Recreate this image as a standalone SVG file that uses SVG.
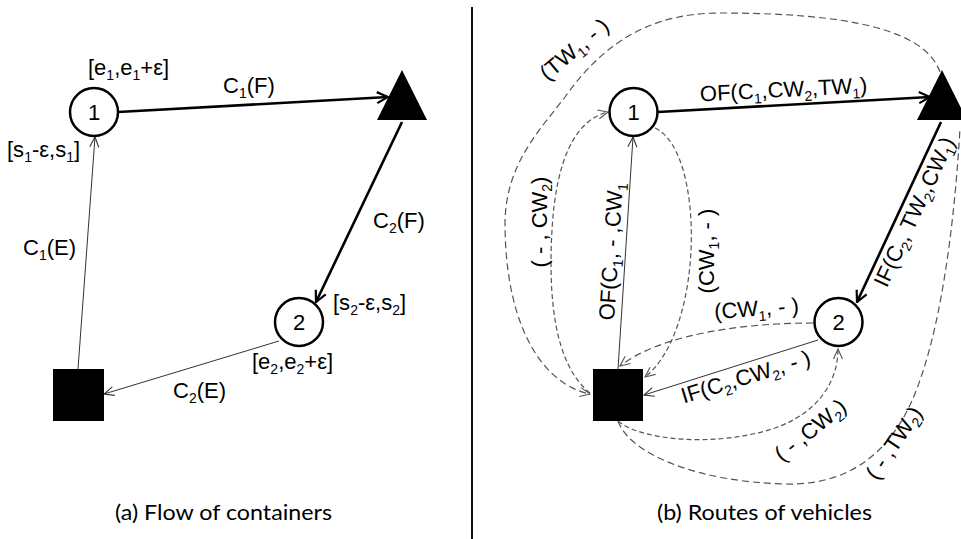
<svg xmlns="http://www.w3.org/2000/svg" width="961" height="539" viewBox="0 0 961 539">
  <style>
    .lbl { font-family: "Liberation Sans", Arial, sans-serif; font-size: 22px; fill: #000; }
    .sub { font-size: 14px; }
    .cap { font-family: Lato, "Liberation Sans", sans-serif; font-size: 22px; fill: #000; }
    .num { font-family: "Liberation Sans", Arial, sans-serif; font-size: 22px; text-anchor: middle; }
    .circ { fill: #fff; stroke: #000; stroke-width: 2.5; }
    .thick { fill: none; stroke: #000; stroke-width: 2.6; }
    .thin { fill: none; stroke: #333; stroke-width: 1; }
    .dash { fill: none; stroke: #555; stroke-width: 1.2; stroke-dasharray: 7 4; }
    .dash2 { fill: none; stroke: #555; stroke-width: 1.2; stroke-dasharray: 5 3; }
  </style>
  <defs>
    <marker id="ah-thick" viewBox="0 0 14 14" refX="12.5" refY="7" markerWidth="14" markerHeight="14" markerUnits="userSpaceOnUse" orient="auto">
      <path d="M1.5,1.5 L12.5,7 L1.5,12.5" fill="none" stroke="#000" stroke-width="2.2"/>
    </marker>
    <marker id="ah-thin" viewBox="0 0 12 12" refX="11" refY="6" markerWidth="12" markerHeight="12" markerUnits="userSpaceOnUse" orient="auto">
      <path d="M1,1.5 L11,6 L1,10.5" fill="none" stroke="#333" stroke-width="1.1"/>
    </marker>
    <marker id="ah-dash" viewBox="0 0 12 12" refX="11" refY="6" markerWidth="12" markerHeight="12" markerUnits="userSpaceOnUse" orient="auto">
      <path d="M1,1.5 L11,6 L1,10.5" fill="none" stroke="#555" stroke-width="1.1"/>
    </marker>
  </defs>

  <rect width="961" height="539" fill="#fff"/>

  <!-- panel divider -->
  <line x1="472" y1="7" x2="472" y2="539" stroke="#111" stroke-width="2"/>

  <!-- ===== (a) flow of containers ===== -->
  <g id="edges-a">
    <line class="thick" x1="118" y1="112" x2="388" y2="97" marker-end="url(#ah-thick)"/>
    <line class="thick" x1="402" y1="122" x2="316" y2="302" marker-end="url(#ah-thick)"/>
    <line class="thin" x1="78" y1="369" x2="95" y2="137" marker-end="url(#ah-thin)"/>
    <line class="thin" x1="279" y1="341" x2="104" y2="394" marker-end="url(#ah-thin)"/>
  </g>

  <g id="a-customer-1">
    <circle class="circ" cx="94" cy="112" r="24"/>
    <text class="num" x="94" y="120">1</text>
  </g>
  <g id="a-customer-2">
    <circle class="circ" cx="299" cy="322" r="24"/>
    <text class="num" x="299" y="330">2</text>
  </g>
  <g id="a-terminal">
    <polygon points="402,70 377,120 427,120" fill="#000"/>
  </g>
  <g id="a-depot">
    <rect x="53" y="369" width="51" height="52" fill="#000"/>
  </g>

  <g id="labels-a" class="lbl">
    <text x="88" y="75">[e<tspan class="sub" dy="5">1</tspan><tspan dy="-5">,e</tspan><tspan class="sub" dy="5">1</tspan><tspan dy="-5">+ε]</tspan></text>
    <text x="223" y="93">C<tspan class="sub" dy="5">1</tspan><tspan dy="-5">(F)</tspan></text>
    <text x="7" y="157">[s<tspan class="sub" dy="5">1</tspan><tspan dy="-5">-ε,s</tspan><tspan class="sub" dy="5">1</tspan><tspan dy="-5">]</tspan></text>
    <text x="23" y="255">C<tspan class="sub" dy="5">1</tspan><tspan dy="-5">(E)</tspan></text>
    <text x="373" y="228">C<tspan class="sub" dy="5">2</tspan><tspan dy="-5">(F)</tspan></text>
    <text x="333" y="310">[s<tspan class="sub" dy="5">2</tspan><tspan dy="-5">-ε,s</tspan><tspan class="sub" dy="5">2</tspan><tspan dy="-5">]</tspan></text>
    <text x="252" y="369">[e<tspan class="sub" dy="5">2</tspan><tspan dy="-5">,e</tspan><tspan class="sub" dy="5">2</tspan><tspan dy="-5">+ε]</tspan></text>
    <text x="173" y="398">C<tspan class="sub" dy="5">2</tspan><tspan dy="-5">(E)</tspan></text>
  </g>
  <text class="cap" x="115" y="520" textLength="217" lengthAdjust="spacingAndGlyphs">(a) Flow of containers</text>

  <!-- ===== (b) routes of vehicles ===== -->
  <g id="edges-b">
    <line class="thick" x1="658" y1="112" x2="930" y2="97" marker-end="url(#ah-thick)"/>
    <line class="thick" x1="941" y1="122" x2="857" y2="302" marker-end="url(#ah-thick)"/>
    <line class="thin" x1="618" y1="369" x2="633" y2="137" marker-end="url(#ah-thin)"/>
    <line class="thin" x1="818" y1="340" x2="644" y2="395" marker-end="url(#ah-thin)"/>
    <!-- (TW1, -) terminal back to depot, over the top -->
    <path class="dash" d="M940,72 C925,30 850,13 720,13 C648,13 602,45 565,97 C538,132 506,165 505,222 C505,330 545,385 590,394" marker-end="url(#ah-dash)"/>
    <!-- ( - , CW2) depot to customer 1 -->
    <path class="dash2" d="M590,393 C555,365 548,300 552,230 C556,160 575,120 608,112" marker-end="url(#ah-dash)"/>
    <!-- (CW1, -) customer 1 to depot -->
    <path class="dash2" d="M655,128 C705,150 705,330 645,377" marker-end="url(#ah-dash)"/>
    <!-- (CW1, -) customer 2 to depot -->
    <path class="dash" d="M813,323 C740,323 660,335 620,366" marker-end="url(#ah-dash)"/>
    <!-- ( - ,CW2) depot to customer 2 -->
    <path class="dash2" d="M618,421 C640,440 715,448 775,428 C820,412 838,380 838,349" marker-end="url(#ah-dash)"/>
    <!-- ( - ,TW2) depot round to terminal -->
    <path class="dash" d="M618,421 C630,455 700,482 785,484 C860,486 900,440 920,380 C945,310 956,200 960,128"/>
  </g>

  <g id="b-customer-1">
    <circle class="circ" cx="633.5" cy="112" r="24"/>
    <text class="num" x="633.5" y="120">1</text>
  </g>
  <g id="b-customer-2">
    <circle class="circ" cx="838.5" cy="322" r="24"/>
    <text class="num" x="838.5" y="330">2</text>
  </g>
  <g id="b-terminal">
    <polygon points="942,70 917,120 967,120" fill="#000"/>
  </g>
  <g id="b-depot">
    <rect x="593" y="369" width="50" height="52" fill="#000"/>
  </g>

  <g id="labels-b" class="lbl">
    <text x="784" y="97" text-anchor="middle" transform="rotate(-3 784 97)">OF(C<tspan class="sub" dy="5">1</tspan><tspan dy="-5">,CW</tspan><tspan class="sub" dy="5">2</tspan><tspan dy="-5">,TW</tspan><tspan class="sub" dy="5">1</tspan><tspan dy="-5">)</tspan></text>
    <text x="921" y="215" text-anchor="middle" transform="rotate(-65 921 215)">IF(C<tspan class="sub" dy="5">2</tspan><tspan dy="-5">, TW</tspan><tspan class="sub" dy="5">2</tspan><tspan dy="-5">,CW</tspan><tspan class="sub" dy="5">1</tspan><tspan dy="-5">)</tspan></text>
    <text x="618.5" y="252" text-anchor="middle" transform="rotate(-86.3 618.5 252)">OF(C<tspan class="sub" dy="5">1</tspan><tspan dy="-5">, - ,CW</tspan><tspan class="sub" dy="5">1</tspan></text>
    <text x="714" y="251" text-anchor="middle" transform="rotate(-90 714 251)">(CW<tspan class="sub" dy="5">1</tspan><tspan dy="-5">, - )</tspan></text>
    <text x="547" y="222" text-anchor="middle" transform="rotate(-90 547 222)">( - , CW<tspan class="sub" dy="5">2</tspan><tspan dy="-5">)</tspan></text>
    <text x="579" y="55" text-anchor="middle" transform="rotate(-40 579 55)">(TW<tspan class="sub" dy="5">1</tspan><tspan dy="-5">, - )</tspan></text>
    <text x="757" y="316" text-anchor="middle" transform="rotate(-4 757 316)">(CW<tspan class="sub" dy="5">1</tspan><tspan dy="-5">, - )</tspan></text>
    <text x="748" y="384" text-anchor="middle" transform="rotate(-17 748 384)">IF(C<tspan class="sub" dy="5">2</tspan><tspan dy="-5">,CW</tspan><tspan class="sub" dy="5">2</tspan><tspan dy="-5">, - )</tspan></text>
    <text x="815" y="436" text-anchor="middle" transform="rotate(-38.7 815 436)">( - ,CW<tspan class="sub" dy="5">2</tspan><tspan dy="-5">)</tspan></text>
    <text x="900" y="447" text-anchor="middle" transform="rotate(-56 900 447)">( - ,TW<tspan class="sub" dy="5">2</tspan><tspan dy="-5">)</tspan></text>
  </g>
  <text class="cap" x="657" y="520" textLength="215" lengthAdjust="spacingAndGlyphs">(b) Routes of vehicles</text>
</svg>
